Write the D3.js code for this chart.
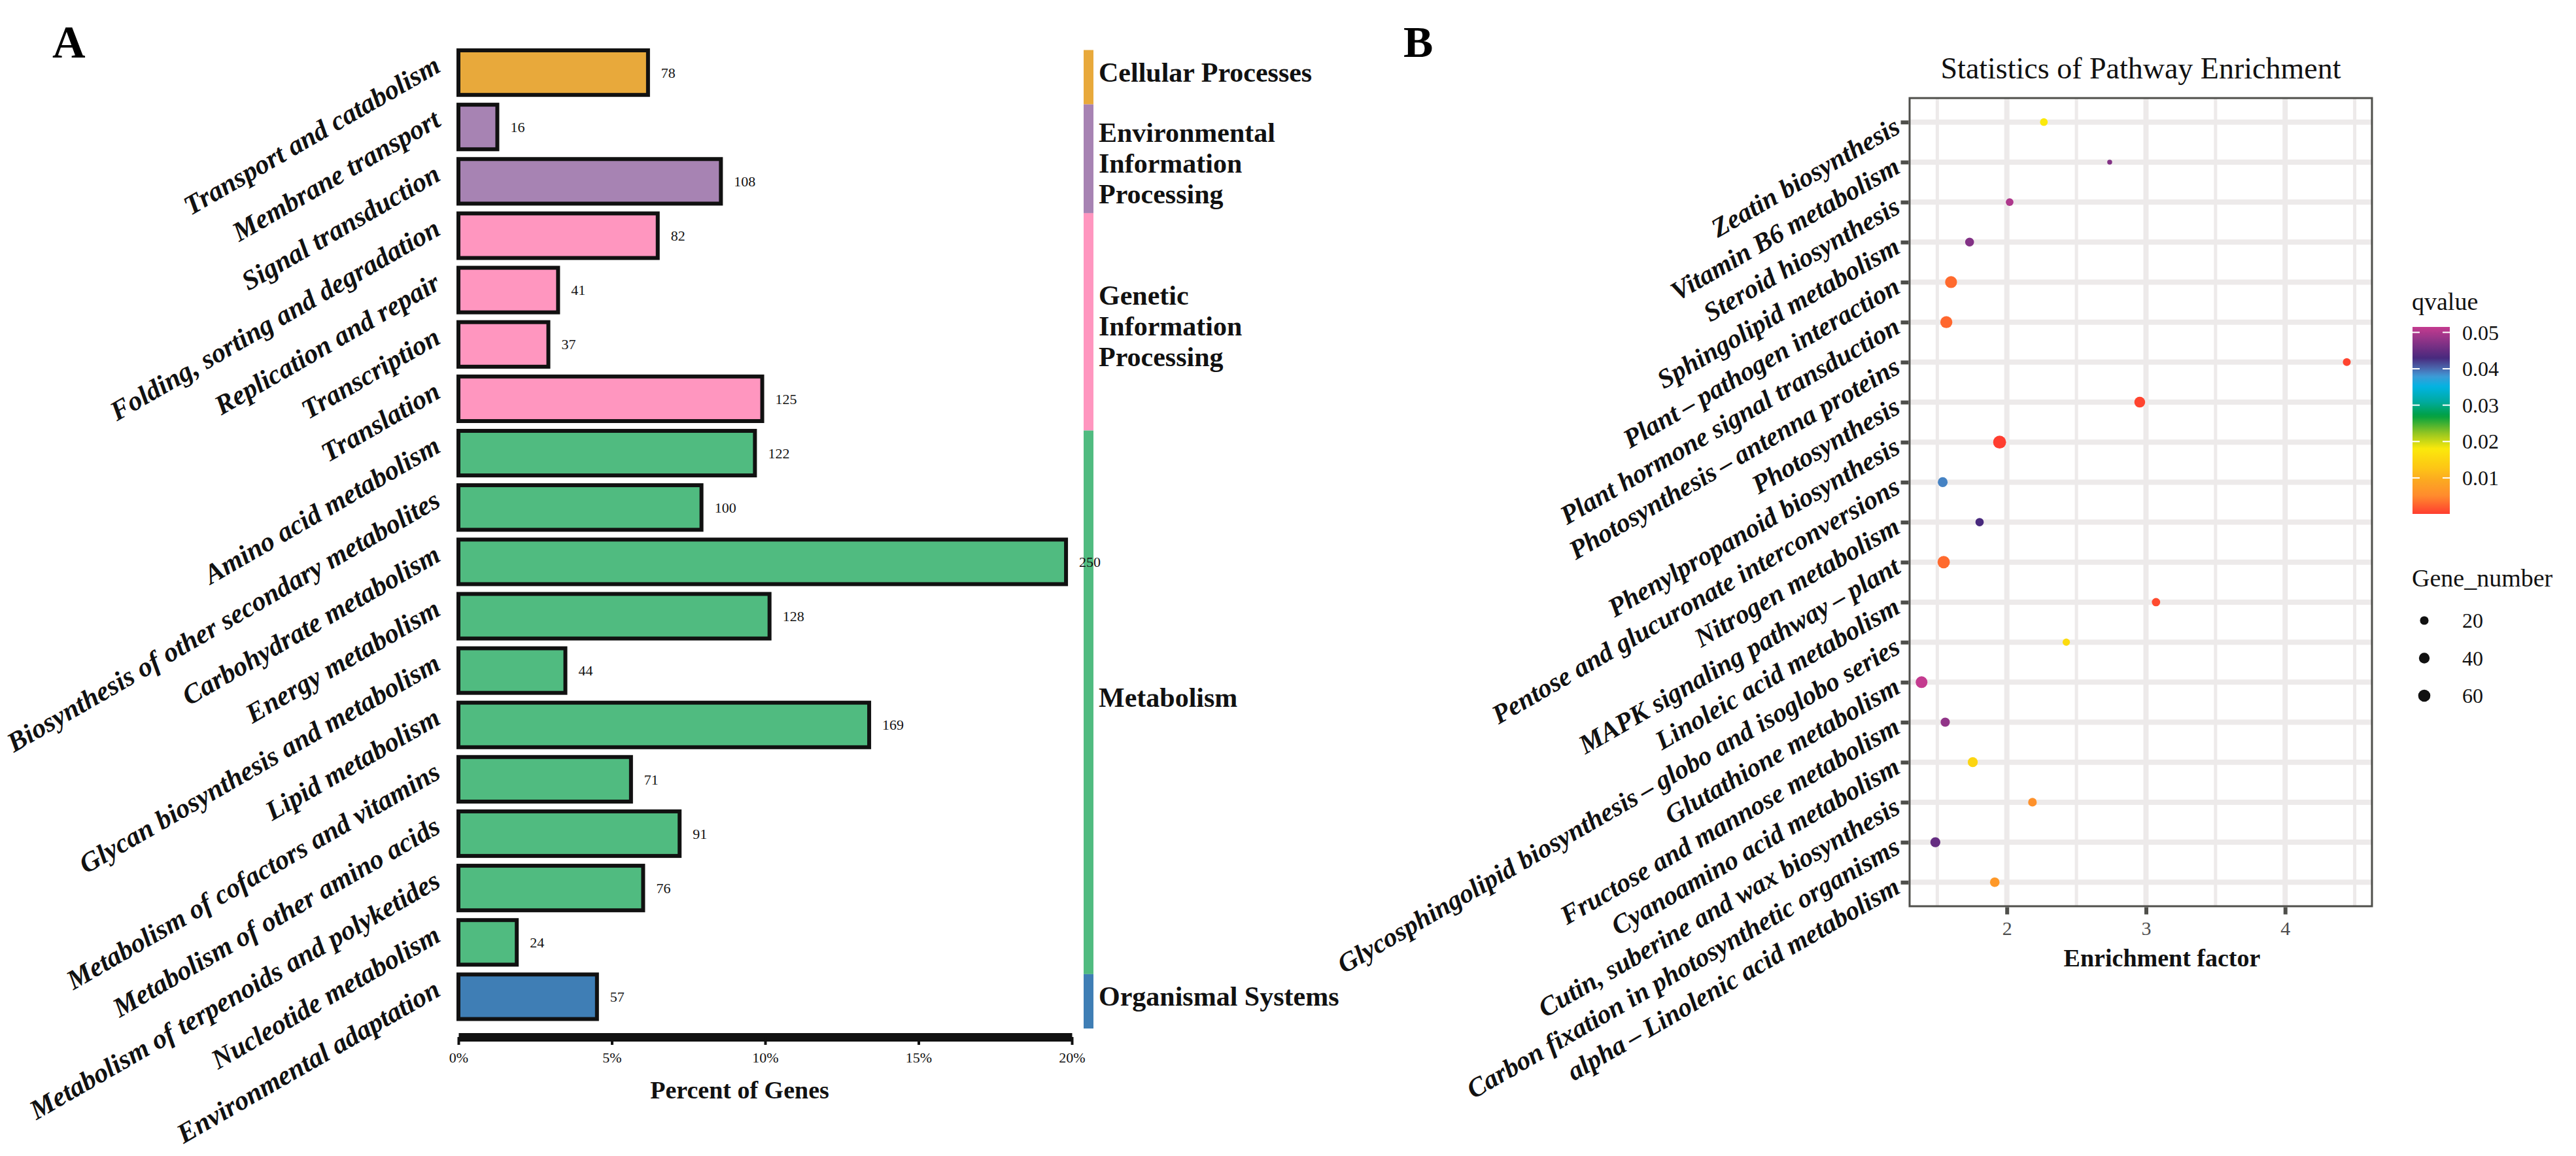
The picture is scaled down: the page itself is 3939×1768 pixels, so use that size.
<!DOCTYPE html>
<html><head><meta charset="utf-8">
<script src="https://cdn.jsdelivr.net/npm/d3@7"></script>
<style>html,body{margin:0;padding:0;background:#fff;} svg{display:block} svg text{font-family:'Liberation Serif','Times New Roman',Times,serif;}</style>
</head><body><svg id="chart" width="3939" height="1768"></svg>
<script>
// ---------------- Panel A data ----------------
const categoriesA = [
  "Transport and catabolism","Membrane transport","Signal transduction",
  "Folding, sorting and degradation","Replication and repair","Transcription","Translation",
  "Amino acid metabolism","Biosynthesis of other secondary metabolites","Carbohydrate metabolism",
  "Energy metabolism","Glycan biosynthesis and metabolism","Lipid metabolism",
  "Metabolism of cofactors and vitamins","Metabolism of other amino acids",
  "Metabolism of terpenoids and polyketides","Nucleotide metabolism","Environmental adaptation"
];
const geneCountsA = [78,16,108,82,41,37,125,122,100,250,128,44,169,71,91,76,24,57];
const groupOfA = [
  "Cellular Processes","Environmental Information Processing","Environmental Information Processing",
  "Genetic Information Processing","Genetic Information Processing","Genetic Information Processing","Genetic Information Processing",
  "Metabolism","Metabolism","Metabolism","Metabolism","Metabolism","Metabolism","Metabolism","Metabolism","Metabolism","Metabolism",
  "Organismal Systems"
];
const totalAnnotated = 1262;
const groupNames = ["Cellular Processes","Environmental Information Processing","Genetic Information Processing","Metabolism","Organismal Systems"];
const groupLabelLines = [["Cellular Processes"],["Environmental","Information","Processing"],["Genetic","Information","Processing"],["Metabolism"],["Organismal Systems"]];
const groupColors = ["#E8A93B","#A783B3","#FF96BF","#50BB80","#3F7EB5"];
const pctTicks = [0,0.05,0.10,0.15,0.20];
const pctTickLabels = ["0%","5%","10%","15%","20%"];

// ---------------- Panel B data ----------------
const pathways = [
  "Zeatin biosynthesis","Vitamin B6 metabolism","Steroid hiosynthesis","Sphingolipid metabolism",
  "Plant\u2009\u2013\u2009pathogen interaction","Plant hormone signal transduction",
  "Photosynthesis\u2009\u2013\u2009antenna proteins","Photosynthesis","Phenylpropanoid biosynthesis",
  "Pentose and glucuronate interconversions","Nitrogen metabolism","MAPK signaling pathway\u2009\u2013\u2009plant",
  "Linoleic acid metabolism","Glycosphingolipid biosynthesis\u2009\u2013\u2009globo and isoglobo series",
  "Glutathione metabolism","Fructose and mannose metabolism","Cyanoamino acid metabolism",
  "Cutin, suberine and wax biosynthesis","Carbon fixation in photosynthetic organisms",
  "alpha\u2009\u2013\u2009Linolenic acid metabolism"
];
const enrichFactor = [2.266,2.739,2.020,1.732,1.599,1.565,4.443,2.955,1.948,1.539,1.804,1.546,3.072,2.427,1.387,1.557,1.755,2.184,1.486,1.913];
const qValues     = [0.018,0.047,0.050,0.047,0.003,0.0028,0.0006,0.0006,0.0001,0.039,0.043,0.003,0.001,0.016,0.0515,0.048,0.015,0.006,0.045,0.007];
const geneNumber  = [14,6,14,22,56,58,15,42,72,31,18,62,18,12,54,25,32,20,33,28];
const efTicks = [2,3,4];
const efTickLabels = ["2","3","4"];
const efMinorTicks = [1.5,2.5,3.5,4.5];
const efLimits = [1.301,4.624];
const qTicks = [0.01,0.02,0.03,0.04,0.05];
const qTickLabels = ["0.01","0.02","0.03","0.04","0.05"];
const sizeLegendValues = [20,40,60];
const qStops = [0,0.005,0.009,0.013,0.018,0.022,0.027,0.031,0.035,0.038,0.040,0.043,0.0515];
const qStopColors = ["#FF3B2F","#FF8A2E","#FCA622","#FDC715","#FBE90B","#9CC820","#00A040","#00AAA0","#00B4E2","#3F9AD6","#4A6AB0","#48297D","#C43B8F"];

// ---------------- Drawing ----------------
const SERIF = "'Liberation Serif','Times New Roman',Times,serif";
const svg = d3.select("#chart").style("font-family", SERIF);
svg.append("rect").attr("width",3939).attr("height",1768).attr("fill","#ffffff");

// ===== Panel A =====
const A = svg.append("g");
const xA = d3.scaleLinear().domain([0,0.20]).range([701,1639]);
const yA = d3.scaleBand().domain(categoriesA).range([69.5,1566]).paddingInner(0.18).paddingOuter(0.09);
const colorA = d3.scaleOrdinal().domain(groupNames).range(groupColors);
const rowsA = categoriesA.map((c,i)=>({cat:c, n:geneCountsA[i], pct:geneCountsA[i]/totalAnnotated, grp:groupOfA[i]}));

A.append("text").attr("x",80).attr("y",88).attr("font-size",70).attr("font-weight","bold").text("A");

A.selectAll("rect.bar").data(rowsA).join("rect").attr("class","bar")
  .attr("x",xA(0)).attr("y",d=>yA(d.cat))
  .attr("width",d=>xA(d.pct)-xA(0)).attr("height",yA.bandwidth())
  .attr("fill",d=>colorA(d.grp)).attr("stroke","#111").attr("stroke-width",6);

// category strip
const yStrip = d3.scaleBand().domain(categoriesA).range([76.5,1573]);
groupNames.forEach((g,gi)=>{
  const members = rowsA.filter(r=>r.grp===g);
  const top = yStrip(members[0].cat), bot = yStrip(members[members.length-1].cat)+yStrip.bandwidth();
  A.append("rect").attr("x",1657).attr("y",top).attr("width",15).attr("height",bot-top).attr("fill",groupColors[gi]);
  const centers = members.map(m=>yA(m.cat)+yA.bandwidth()/2);
  const lines = groupLabelLines[gi];
  const mid = d3.mean(centers) + (lines.length>1 ? 14 : 0);
  const lh = 47;
  const t = A.append("text").attr("x",1680).attr("font-size",42).attr("font-weight","bold").attr("fill","#111");
  lines.forEach((ln,li)=>{
    t.append("tspan").attr("x",1680).attr("y", mid + (li-(lines.length-1)/2)*lh + 14).text(ln);
  });
});

// value labels
A.selectAll("text.val").data(rowsA).join("text").attr("class","val")
  .attr("x",d=>xA(d.pct)+20).attr("y",d=>yA(d.cat)+yA.bandwidth()/2).attr("dy","0.35em")
  .attr("font-size",22).attr("fill","#111").text(d=>d.n);

// category labels (rotated)
A.selectAll("text.cat").data(rowsA).join("text").attr("class","cat")
  .attr("x",676).attr("y",d=>yA(d.cat)+yA.bandwidth()/2-3)
  .attr("transform",d=>`rotate(-30,676,${yA(d.cat)+yA.bandwidth()/2-3})`)
  .attr("text-anchor","end").attr("font-size",42).attr("font-weight","bold").attr("font-style","italic")
  .attr("fill","#111").text(d=>d.cat);

// x axis
const axA = A.append("g").attr("transform","translate(0,1586)")
  .call(d3.axisBottom(xA).tickValues(pctTicks).tickFormat((d,i)=>pctTickLabels[i]).tickSize(12).tickSizeOuter(0).tickPadding(11));
axA.select(".domain").attr("stroke","#111").attr("stroke-width",13);
axA.selectAll(".tick line").attr("stroke","#111").attr("stroke-width",4);
axA.selectAll(".tick text").attr("font-size",22).attr("fill","#111");
A.append("text").attr("x",1131).attr("y",1680).attr("text-anchor","middle").attr("font-size",38).attr("font-weight","bold").attr("fill","#111").text("Percent of Genes");

// ===== Panel B =====
const B = svg.append("g");
B.append("text").attr("x",2146).attr("y",87).attr("font-size",68).attr("font-weight","bold").text("B");

const panel = {x0:2920, x1:3627, y0:150, y1:1386};
const xB = d3.scaleLinear().domain(efLimits).range([panel.x0,panel.x1]);
const yB = d3.scalePoint().domain(pathways).range([panel.y0,panel.y1]).padding(0.6);
const colorQ = d3.scaleLinear().domain(qStops).range(qStopColors).interpolate(d3.interpolateRgb).clamp(true);
const nExt = d3.extent(geneNumber);
const diamScale = d3.scaleLinear().domain([0,1]).range([7.5,19.8]);
const radius = n => diamScale(Math.sqrt(Math.max(0,(n-nExt[0]))/(nExt[1]-nExt[0])))/2;

B.append("text").attr("x",(panel.x0+panel.x1)/2).attr("y",120).attr("text-anchor","middle").attr("font-size",46).attr("fill","#111").text("Statistics of Pathway Enrichment");

const grid = B.append("g");
grid.selectAll("line.h").data(pathways).join("line").attr("class","h")
  .attr("x1",panel.x0).attr("x2",panel.x1).attr("y1",d=>yB(d)).attr("y2",d=>yB(d))
  .attr("stroke","#EDEAEA").attr("stroke-width",8);
grid.selectAll("line.vmin").data(efMinorTicks).join("line").attr("class","vmin")
  .attr("x1",d=>xB(d)).attr("x2",d=>xB(d)).attr("y1",panel.y0).attr("y2",panel.y1)
  .attr("stroke","#EDEAEA").attr("stroke-width",5);
grid.selectAll("line.vmaj").data(efTicks).join("line").attr("class","vmaj")
  .attr("x1",d=>xB(d)).attr("x2",d=>xB(d)).attr("y1",panel.y0).attr("y2",panel.y1)
  .attr("stroke","#EDEAEA").attr("stroke-width",8);

const ptsB = pathways.map((p,i)=>({p, ef:enrichFactor[i], q:qValues[i], n:geneNumber[i]}));
B.selectAll("circle.pt").data(ptsB).join("circle").attr("class","pt")
  .attr("cx",d=>xB(d.ef)).attr("cy",d=>yB(d.p)).attr("r",d=>radius(d.n)).attr("fill",d=>colorQ(d.q));

B.append("rect").attr("x",panel.x0).attr("y",panel.y0).attr("width",panel.x1-panel.x0).attr("height",panel.y1-panel.y0)
  .attr("fill","none").attr("stroke","#4f4f4b").attr("stroke-width",3);

const ayB = B.append("g").attr("transform",`translate(${panel.x0-1.5},0)`)
  .call(d3.axisLeft(yB).tickSize(12).tickFormat(""));
ayB.select(".domain").remove();
ayB.selectAll(".tick line").attr("stroke","#4f4f4b").attr("stroke-width",6);

const axB = B.append("g").attr("transform",`translate(0,${panel.y1+1.5})`)
  .call(d3.axisBottom(xB).tickValues(efTicks).tickFormat((d,i)=>efTickLabels[i]).tickSize(11).tickPadding(10));
axB.select(".domain").remove();
axB.selectAll(".tick line").attr("stroke","#4f4f4b").attr("stroke-width",6);
axB.selectAll(".tick text").attr("font-size",30).attr("fill","#4D4D4D");

B.selectAll("text.pw").data(pathways).join("text").attr("class","pw")
  .attr("x",2908).attr("y",d=>yB(d)+15)
  .attr("transform",d=>`rotate(-30,2908,${yB(d)+15})`)
  .attr("text-anchor","end").attr("font-size",41).attr("font-weight","bold").attr("font-style","italic")
  .attr("fill","#111").text(d=>d);

B.append("text").attr("x",3306).attr("y",1478).attr("text-anchor","middle").attr("font-size",38).attr("font-weight","bold").attr("fill","#111").text("Enrichment factor");

// qvalue legend
const lg = B.append("g");
lg.append("text").attr("x",3688).attr("y",474).attr("font-size",38).attr("fill","#111").text("qvalue");
const qExt = d3.extent(qValues);
const barTop = 500, barBot = 786, barX = 3689, barW = 57;
const qBar = d3.scaleLinear().domain(qExt).range([barBot,barTop]);
const defs = svg.append("defs");
const grad = defs.append("linearGradient").attr("id","qgrad").attr("x1",0).attr("y1",0).attr("x2",0).attr("y2",1);
d3.range(0,61).forEach(k=>{
  const f = k/60;
  const q = qExt[1] - f*(qExt[1]-qExt[0]);
  grad.append("stop").attr("offset",f).attr("stop-color",colorQ(q));
});
lg.append("rect").attr("x",barX).attr("y",barTop).attr("width",barW).attr("height",barBot-barTop).attr("fill","url(#qgrad)");
qTicks.forEach((t,i)=>{
  const y = qBar(t);
  lg.append("line").attr("x1",barX).attr("x2",barX+11).attr("y1",y).attr("y2",y).attr("stroke","#fff").attr("stroke-width",2);
  lg.append("line").attr("x1",barX+barW-11).attr("x2",barX+barW).attr("y1",y).attr("y2",y).attr("stroke","#fff").attr("stroke-width",2);
  lg.append("text").attr("x",3765).attr("y",y).attr("dy","0.35em").attr("font-size",32).attr("fill","#111").text(qTickLabels[i]);
});

// Gene_number legend
lg.append("text").attr("x",3688).attr("y",897).attr("font-size",38).attr("fill","#111").text("Gene_number");
sizeLegendValues.forEach((v,i)=>{
  const y = 949 + i*57.5;
  lg.append("circle").attr("cx",3707).attr("cy",y).attr("r",radius(v)).attr("fill","#111");
  lg.append("text").attr("x",3765).attr("y",y).attr("dy","0.35em").attr("font-size",32).attr("fill","#111").text(v);
});
</script>
</body></html>
